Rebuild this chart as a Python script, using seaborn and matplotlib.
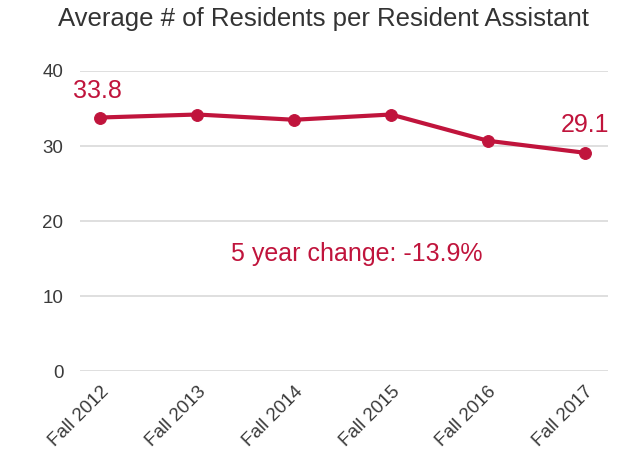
import matplotlib
matplotlib.use("Agg")
import matplotlib.pyplot as plt
import seaborn as sns
import pandas as pd

# data
terms = ["Fall 2012", "Fall 2013", "Fall 2014", "Fall 2015", "Fall 2016", "Fall 2017"]
residents_per_ra = [33.8, 34.2, 33.5, 34.2, 30.7, 29.1]
yticks = [0, 10, 20, 30, 40]

df = pd.DataFrame({"term": terms, "value": residents_per_ra})
red = "#c0143c"

sns.set_style("white")
plt.rcParams["font.family"] = ["Liberation Sans", "DejaVu Sans"]

fig = plt.figure(figsize=(6.22, 4.61), dpi=100)
ax = fig.add_axes([0.1286, 0.195, 0.849, 0.651])

sns.lineplot(data=df, x="term", y="value", ax=ax, color=red, linewidth=3,
             marker="o", markersize=8.5, markeredgecolor=red, sort=False, clip_on=False)

ax.set_ylim(0, 40)
ax.set_xlim(-0.21, 5.24)
ax.set_yticks(yticks)
ax.yaxis.grid(True, color="#dcdcdc", linewidth=1.3)
ax.xaxis.grid(False)
for s in ax.spines.values():
    s.set_visible(False)
ax.tick_params(axis="both", length=0, labelsize=13.5, colors="#3a3a3a")
ax.tick_params(axis="y", pad=12)
ax.tick_params(axis="x", pad=9)
plt.setp(ax.get_xticklabels(), rotation=45, ha="right", rotation_mode="anchor")
ax.set_xlabel("")
ax.set_ylabel("")

# first / last value labels
ax.annotate(f"{residents_per_ra[0]}", (0, residents_per_ra[0]), xytext=(-2, 19),
            textcoords="offset points", ha="center", va="center", color=red, fontsize=18)
ax.annotate(f"{residents_per_ra[-1]}", (5, residents_per_ra[-1]), xytext=(0, 20),
            textcoords="offset points", ha="center", va="center", color=red, fontsize=18)

change = (residents_per_ra[-1] - residents_per_ra[0]) / residents_per_ra[0] * 100
ax.text(2.65, 15.6, f"5 year change: {change:.1f}%", ha="center", va="center",
        color=red, fontsize=18)

fig.suptitle("Average # of Residents per Resident Assistant", x=0.52, y=0.985,
             fontsize=18.5, color="#333333")

fig.savefig("out.png", dpi=100)
